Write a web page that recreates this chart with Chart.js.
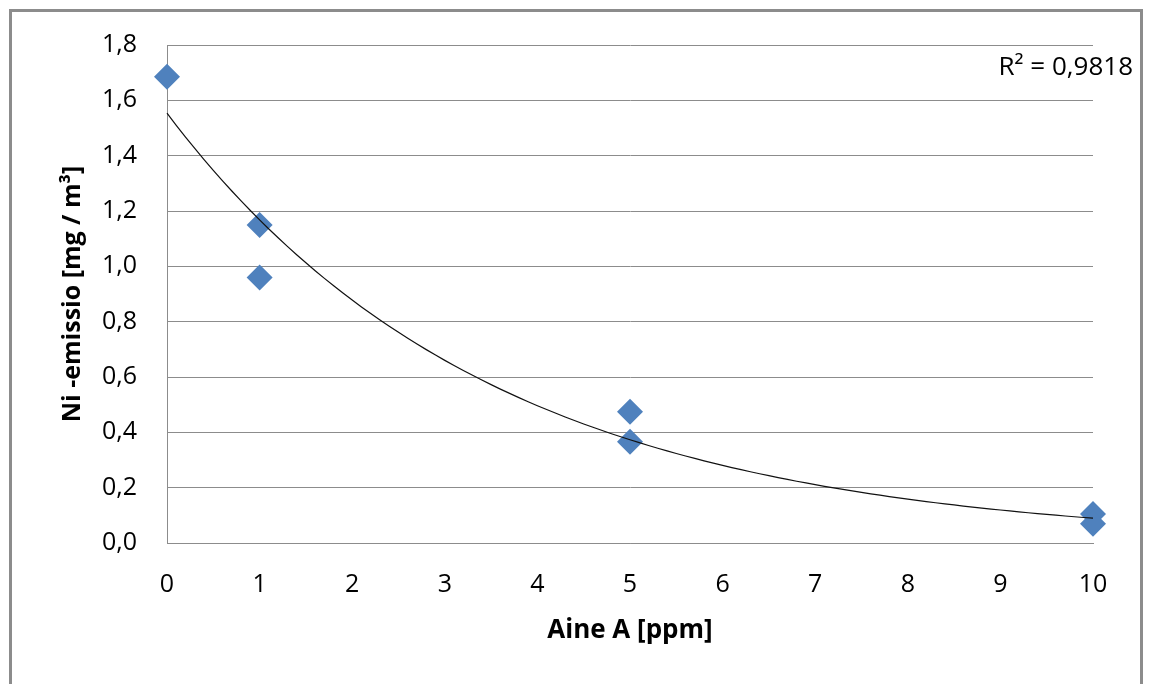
<!DOCTYPE html>
<html>
<head>
<meta charset="utf-8">
<script src="https://cdn.jsdelivr.net/npm/chart.js@4"></script>
<style>
  html, body { margin: 0; padding: 0; background: #fff; overflow: hidden; }
  #wrap { position: absolute; left: 0; top: 0; width: 1149px; height: 684px; }
  #frame { position: absolute; left: 9px; top: 9px; width: 1128px; height: 720px; border: 3px solid #8c8c8c; }
</style>
</head>
<body>
<div id="wrap">
  <div id="frame"></div>
  <canvas id="chart" width="1149" height="684"></canvas>
</div>
<script>
// measured points (Aine A ppm -> Ni emission mg/m3)
const xValues = [0, 1, 1, 5, 5, 10, 10];
const yValues = [1.685, 1.149, 0.96, 0.474, 0.366, 0.105, 0.07];
const xTicks = [0, 1, 2, 3, 4, 5, 6, 7, 8, 9, 10];
const yTicks = [0, 0.2, 0.4, 0.6, 0.8, 1.0, 1.2, 1.4, 1.6, 1.8];
const r2Label = 'R² = 0,9818';

const FONT = "'Open Sans', sans-serif";

// exponential trendline fitted like Excel (least squares on ln y)
const n = xValues.length;
const lnY = yValues.map(v => Math.log(v));
const mx = xValues.reduce((a, b) => a + b, 0) / n;
const my = lnY.reduce((a, b) => a + b, 0) / n;
let sxy = 0, sxx = 0;
xValues.forEach((x, i) => { sxy += (x - mx) * (lnY[i] - my); sxx += (x - mx) * (x - mx); });
const b = sxy / sxx;
const a = Math.exp(my - b * mx);
const trend = [];
for (let i = 0; i <= 100; i++) {
  const x = xTicks[0] + (xTicks[xTicks.length - 1] - xTicks[0]) * i / 100;
  trend.push({ x: x, y: a * Math.exp(b * x) });
}

const r2Plugin = {
  id: 'r2',
  afterDatasetsDraw(chart) {
    const { ctx, chartArea } = chart;
    ctx.save();
    ctx.font = '26px ' + FONT;
    ctx.fillStyle = '#000';
    ctx.textAlign = 'right';
    ctx.textBaseline = 'alphabetic';
    ctx.fillText(r2Label, chartArea.right + 40, chartArea.top + 30);
    ctx.restore();
  }
};

new Chart(document.getElementById('chart'), {
  type: 'scatter',
  data: {
    datasets: [
      {
        label: 'trend',
        data: trend,
        showLine: true,
        borderColor: '#111',
        borderWidth: 1.2,
        pointRadius: 0,
        order: 0
      },
      {
        label: 'Ni',
        data: xValues.map((x, i) => ({ x: x, y: yValues[i] })),
        pointStyle: 'rectRot',
        pointRadius: 13,
        pointHoverRadius: 13,
        backgroundColor: '#4f81bd',
        borderColor: '#4f81bd',
        borderWidth: 0,
        order: 1
      }
    ]
  },
  options: {
    responsive: false,
    animation: false,
    clip: false,
    layout: { padding: { left: 54, top: 45, right: 56, bottom: 34 } },
    plugins: { legend: { display: false }, tooltip: { enabled: false } },
    scales: {
      x: {
        type: 'linear',
        min: 0, max: 10,
        afterBuildTicks: s => { s.ticks = xTicks.map(v => ({ value: v })); },
        afterFit: s => { s.height = 107; },
        grid: { display: false, drawTicks: false },
        border: { display: true, color: '#8c8c8c', width: 1 },
        ticks: { color: '#000', padding: 27, font: { family: FONT, size: 25 } },
        title: { display: true, text: 'Aine A [ppm]', color: '#000', font: { family: FONT, size: 26, weight: 'bold' } }
      },
      y: {
        min: 0, max: 1.8,
        afterBuildTicks: s => { s.ticks = yTicks.map(v => ({ value: v })); },
        afterFit: s => { s.width = 113; },
        grid: { color: '#8c8c8c', lineWidth: 1, drawTicks: false },
        border: { display: true, color: '#8c8c8c', width: 1 },
        ticks: {
          color: '#000', padding: 30, font: { family: FONT, size: 25 },
          callback: v => v.toFixed(1).replace('.', ',')
        },
        title: { display: true, text: 'Ni -emissio [mg / m³]', color: '#000', font: { family: FONT, size: 25, weight: 'bold' } }
      }
    }
  },
  plugins: [r2Plugin]
});
</script>
</body>
</html>
